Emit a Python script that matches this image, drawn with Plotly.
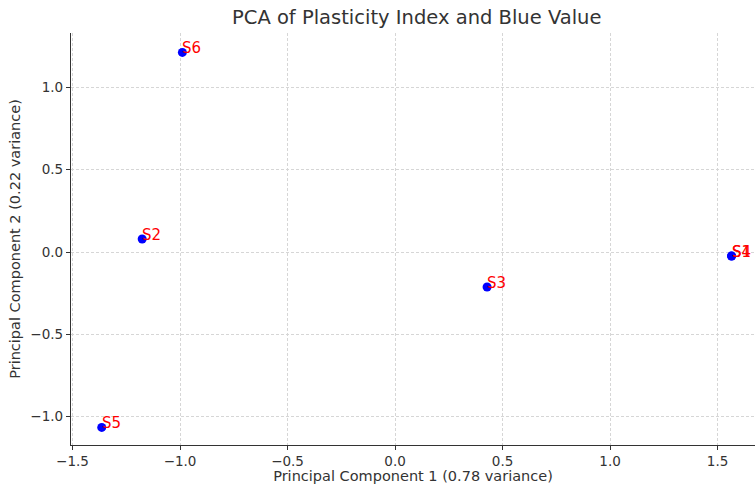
import plotly.graph_objects as go

samples = ["S1", "S2", "S3", "S4", "S5", "S6"]
pc1 = [1.565, -1.176, 0.428, 1.565, -1.364, -0.989]
pc2 = [-0.024, 0.079, -0.213, -0.024, -1.066, 1.213]

x_ticks = [-1.5, -1.0, -0.5, 0.0, 0.5, 1.0, 1.5]
y_ticks = [-1.0, -0.5, 0.0, 0.5, 1.0]

font = "DejaVu Sans"

fig = go.Figure()
fig.add_trace(go.Scatter(
    x=pc1, y=pc2, mode="markers",
    marker=dict(color="blue", size=9),
    showlegend=False, hoverinfo="skip",
))

for s, x, y in zip(samples, pc1, pc2):
    fig.add_annotation(
        x=x, y=y, text=s, showarrow=False,
        xanchor="left", yanchor="bottom", xshift=-2, yshift=-7,
        font=dict(family=font, size=15, color="red"),
    )

axis_common = dict(
    showgrid=True, gridcolor="#d6d6d6", griddash="3px,2px", gridwidth=1,
    zeroline=False, showline=True, linecolor="#333333", linewidth=1.3,
    ticks="outside", ticklen=4, tickcolor="#333333",
    tickfont=dict(family=font, size=13.5, color="#333333"),
)

fig.update_xaxes(
    range=[-1.507, 1.674], tickvals=x_ticks,
    ticktext=[f"{v:.1f}".replace("-", "\u2212") for v in x_ticks],
    title=dict(text="Principal Component 1 (0.78 variance)",
               font=dict(family=font, size=14.5, color="#333333"), standoff=2),
    **axis_common,
)
fig.update_yaxes(
    range=[-1.173, 1.331], tickvals=y_ticks,
    ticktext=[f"{v:.1f}".replace("-", "\u2212") for v in y_ticks],
    title=dict(text="Principal Component 2 (0.22 variance)",
               font=dict(family=font, size=14.5, color="#333333"), standoff=6),
    **axis_common,
)

fig.update_layout(
    width=755, height=484,
    margin=dict(l=71, r=0, t=33, b=39),
    plot_bgcolor="white", paper_bgcolor="white",
    title=dict(text="PCA of Plasticity Index and Blue Value",
               x=0.552, xanchor="center", y=0.978, yanchor="top",
               font=dict(family=font, size=19.5, color="#333333")),
)

fig.write_html("out.html")
